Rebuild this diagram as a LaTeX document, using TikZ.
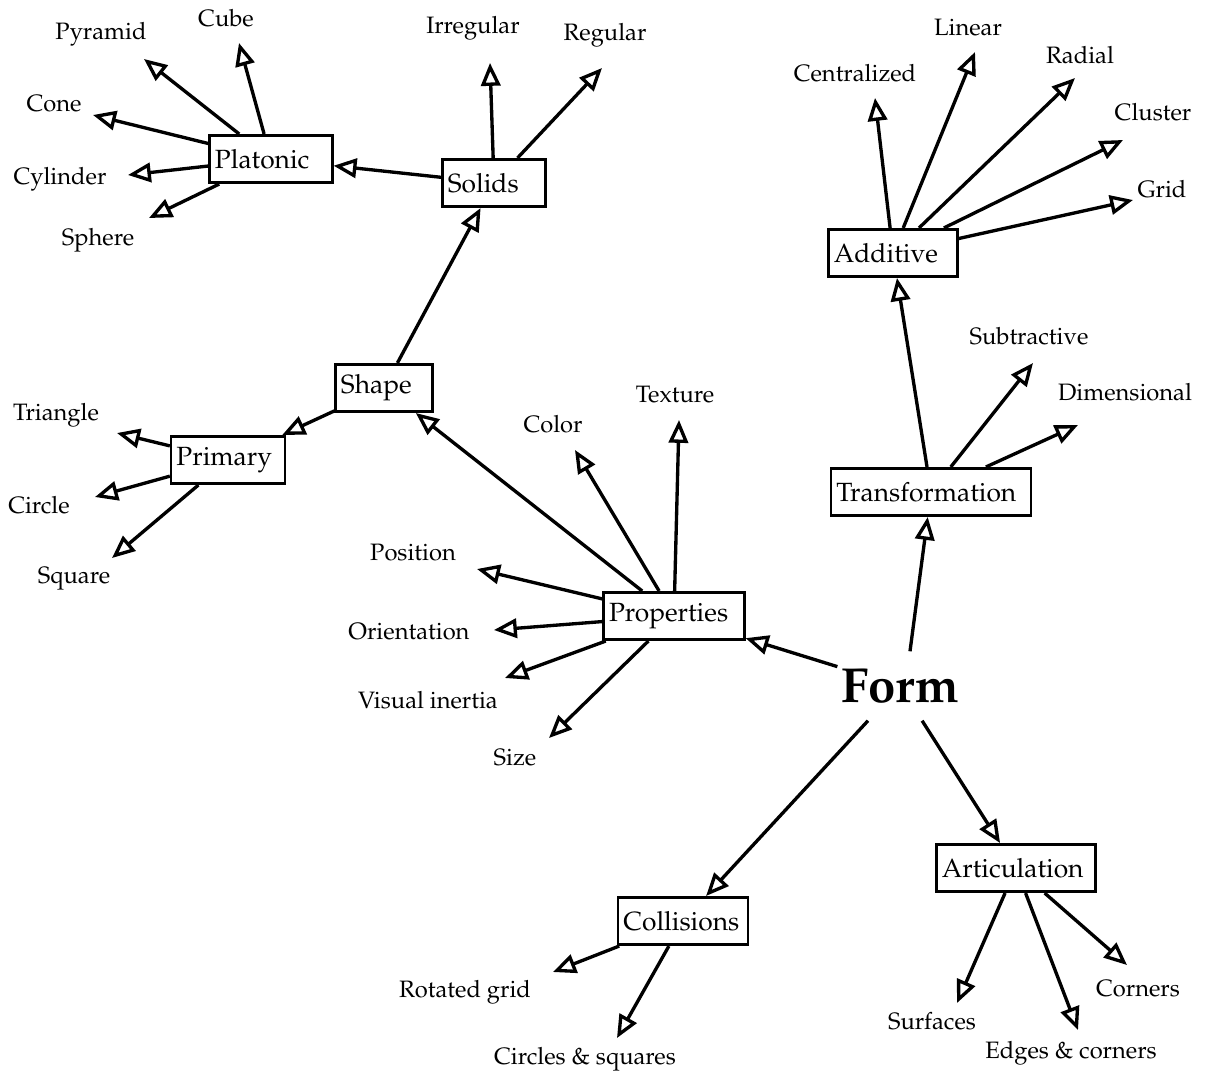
\documentclass[tikz,border=0pt]{standalone}
\usepackage[T1]{fontenc}
\usepackage{mathpazo}
\usetikzlibrary{arrows.meta}

\tikzset{
  box/.style={draw, line width=1.5pt, inner xsep=3pt, inner ysep=2pt,
    minimum height=27pt, align=left, font=\fontsize{15}{18}\selectfont},
  lbl/.style={inner sep=1pt, font=\fontsize{13.5}{16}\selectfont},
  arr/.style={line width=1.9pt, -{Triangle[open, length=13pt, width=11pt]}}
}

\begin{document}
\begin{tikzpicture}[x=0.02cm, y=-0.02cm]
  \useasboundingbox (0,0) rectangle (1207,1076);

        % 1) The main concept and the boxes
        \node[font=\fontsize{28}{32}\selectfont\bfseries, inner xsep=2pt, inner ysep=10pt] (form) at (900,686) {Form};
        \node[box, text width=74pt] (prop) at (674,616) {Properties};
        \node[box, text width=49pt] (shape) at (384,388) {Shape};
        \node[box, text width=52.5pt] (solids) at (494,183) {Solids};
        \node[box, text width=63.8pt] (plat) at (271,159) {Platonic};
        \node[box, text width=58.7pt] (prim) at (228,460) {Primary};
        \node[box, text width=107.7pt] (trans) at (931,492) {Transformation};
        \node[box, text width=67.3pt] (add) at (893,253) {Additive};
        \node[box, text width=67.8pt] (coll) at (683,921) {Collisions};
        \node[box, text width=84.3pt] (artic) at (1016,868) {Articulation};

        % 2) Links between the boxes
        \draw[arr] (form) -- (prop);
        \draw[arr] ([xshift=0.2cm]form.north) -- (trans);
        \draw[arr] (form) -- (coll);
        \draw[arr] (form) -- (artic);
        \draw[arr] (prop) -- (shape);
        \draw[arr] (shape) -- (solids);
        \draw[arr] (shape) -- (prim);
        \draw[arr] (solids) -- (plat);
        \draw[arr] (trans) -- (add);

        % 3) Platonic solids
        \node[lbl] (pyr) at (101,34) {Pyramid};
        \node[lbl] (cube) at (226,18) {Cube};
        \node[lbl] (cone) at (54,104) {Cone};
        \node[lbl] (cyl) at (60,179) {Cylinder};
        \node[lbl] (sph) at (98,240) {Sphere};
        \coordinate (pyrT) at (144,59);
        \coordinate (cubeT) at (239,43);
        \coordinate (coneT) at (93,115);
        \coordinate (cylT) at (128,175);
        \coordinate (sphT) at (149,218);
        \draw[arr] (plat) -- (pyrT);
        \draw[arr] (plat) -- (cubeT);
        \draw[arr] (plat) -- (coneT);
        \draw[arr] (plat) -- (cylT);
        \draw[arr] (plat) -- (sphT);

        % 4) Solids
        \node[lbl] (irr) at (473,28) {Irregular};
        \node[lbl] (reg) at (605,35) {Regular};
        \coordinate (irrT) at (490,63);
        \coordinate (regT) at (602,68);
        \draw[arr] (solids) -- (irrT);
        \draw[arr] (solids) -- (regT);

        % 5) Primary shapes
        \node[lbl] (tri) at (56,415) {Triangle};
        \node[lbl] (circ) at (39,505) {Circle};
        \node[lbl] (sq) at (74,579) {Square};
        \coordinate (triT) at (117,433);
        \coordinate (circT) at (95,497);
        \coordinate (sqT) at (112,558);
        \draw[arr] (prim) -- (triT);
        \draw[arr] (prim) -- (circT);
        \draw[arr] (prim) -- (sqT);

        % 6) Properties
        \node[lbl] (col) at (553,424) {Color};
        \node[lbl] (tex) at (675,395) {Texture};
        \node[lbl] (pos) at (413,553) {Position};
        \node[lbl] (ori) at (409,632) {Orientation};
        \node[lbl] (vis) at (428,700) {Visual inertia};
        \node[lbl] (size) at (515,758) {Size};
        \coordinate (colT) at (575,450);
        \coordinate (texT) at (679,420);
        \coordinate (posT) at (477,569);
        \coordinate (oriT) at (494,630);
        \coordinate (visT) at (505,678);
        \coordinate (sizeT) at (549,738);
        \draw[arr] (prop) -- (colT);
        \draw[arr] (prop) -- (texT);
        \draw[arr] (prop) -- (posT);
        \draw[arr] (prop) -- (oriT);
        \draw[arr] (prop) -- (visT);
        \draw[arr] (prop) -- (sizeT);

        % 7) Additive and Transformation
        \node[lbl] (cent) at (855,73) {Centralized};
        \node[lbl] (lin) at (968,28) {Linear};
        \node[lbl] (rad) at (1080,55) {Radial};
        \node[lbl] (clus) at (1153,112) {Cluster};
        \node[lbl] (grid) at (1162,189) {Grid};
        \coordinate (centT) at (875,98);
        \coordinate (linT) at (975,52);
        \coordinate (radT) at (1075,78);
        \coordinate (clusT) at (1123,140);
        \coordinate (gridT) at (1133,200);
        \draw[arr] (add) -- (centT);
        \draw[arr] (add) -- (linT);
        \draw[arr] (add) -- (radT);
        \draw[arr] (add) -- (clusT);
        \draw[arr] (add) -- (gridT);

        \node[lbl] (sub) at (1029,336) {Subtractive};
        \node[lbl] (dim) at (1125,392) {Dimensional};
        \coordinate (subT) at (1033,363);
        \coordinate (dimT) at (1078,425);
        \draw[arr] (trans) -- (subT);
        \draw[arr] (trans) -- (dimT);

        % 8) Collisions and Articulation
        \node[lbl] (rot) at (465,992) {Rotated grid};
        \node[lbl] (cs) at (585,1059) {Circles \& squares};
        \coordinate (rotT) at (553,972);
        \coordinate (csT) at (617,1038);
        \draw[arr] (coll) -- (rotT);
        \draw[arr] (coll) -- (csT);

        \node[lbl] (surf) at (932,1021) {Surfaces};
        \node[lbl] (edge) at (1071,1053) {Edges \& corners};
        \node[lbl] (corn) at (1138,989) {Corners};
        \coordinate (surfT) at (957,1003);
        \coordinate (edgeT) at (1078,1030);
        \coordinate (cornT) at (1127,965);
        \draw[arr] (artic) -- (surfT);
        \draw[arr] (artic) -- (edgeT);
        \draw[arr] (artic) -- (cornT);

\end{tikzpicture}
\end{document}
